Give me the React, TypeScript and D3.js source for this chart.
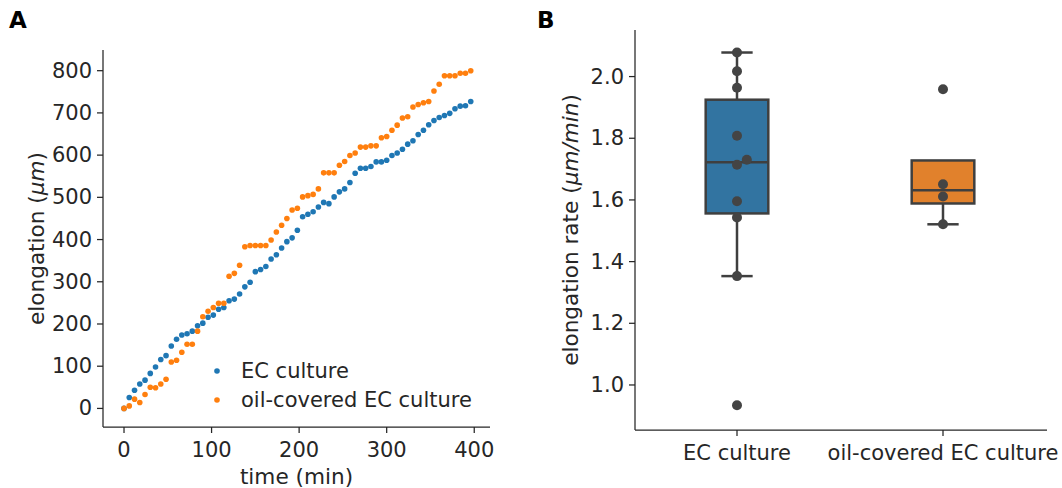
import React from "react";
import * as d3 from "d3";

// ---------- Panel A data ----------
const times = [0, 6, 12, 18, 24, 30, 36, 42, 48, 54, 60, 66, 72, 78, 84, 90, 96, 102, 108, 114, 120, 126, 132, 138, 144, 150, 156, 162, 168, 174, 180, 186, 192, 198, 204, 210, 216, 222, 228, 234, 240, 246, 252, 258, 264, 270, 276, 282, 288, 294, 300, 306, 312, 318, 324, 330, 336, 342, 348, 354, 360, 366, 372, 378, 384, 390, 396];
const ecElong = [0, 26, 43, 58, 67, 83, 98, 116, 125, 148, 164, 174, 177, 183, 196, 202, 216, 221, 235, 239, 255, 259, 271, 288, 299, 324, 329, 336, 354, 364, 380, 395, 404, 422, 454, 460, 466, 477, 488, 485, 501, 513, 520, 535, 557, 569, 569, 573, 584, 584, 588, 599, 605, 614, 626, 634, 649, 659, 672, 682, 689, 694, 699, 710, 716, 717, 727];
const oilElong = [0, 6, 22, 14, 33, 50, 49, 58, 69, 110, 114, 133, 152, 152, 183, 217, 230, 239, 249, 249, 313, 320, 339, 383, 386, 386, 386, 386, 399, 418, 434, 450, 470, 474, 501, 504, 507, 520, 558, 558, 558, 576, 585, 599, 605, 619, 619, 622, 622, 641, 644, 659, 671, 688, 691, 714, 720, 724, 727, 752, 768, 788, 788, 788, 794, 794, 800];
const xTicksA = [0, 100, 200, 300, 400];
const yTicksA = [0, 100, 200, 300, 400, 500, 600, 700, 800];
const seriesNames = ["EC culture", "oil-covered EC culture"];

// ---------- Panel B data ----------
const categories = ["EC culture", "oil-covered EC culture"];
const ecRates = [2.078, 2.017, 1.964, 1.808, 1.730, 1.714, 1.596, 1.543, 1.353, 0.934];
const oilRates = [1.959, 1.651, 1.611, 1.521];
const yTicksB = [1.0, 1.2, 1.4, 1.6, 1.8, 2.0];

const FONT = "DejaVu Sans, Liberation Sans, sans-serif";
const TXT = "#262626";
const C_BLUE = "#1f77b4";
const C_ORANGE = "#ff7f0e";
const BOX_COLORS = ["#3274a1", "#e1812c"];
const LINE = "#3f3f3f";
const TICK_FS = 21;
const LABEL_FS = 21.6;

function boxStats(vals: number[]) {
  const s = [...vals].sort((a, b) => a - b);
  const q1 = d3.quantile(s, 0.25)!;
  const med = d3.quantile(s, 0.5)!;
  const q3 = d3.quantile(s, 0.75)!;
  const iqr = q3 - q1;
  const lo = q1 - 1.5 * iqr;
  const hi = q3 + 1.5 * iqr;
  const inside = s.filter((v) => v >= lo && v <= hi);
  return { q1, med, q3, wLo: d3.min(inside)!, wHi: d3.max(inside)! };
}

function swarm(vals: number[], y: (v: number) => number, d: number) {
  const sorted = [...vals].sort((a, b) => a - b);
  const placed: { x: number; y: number; v: number }[] = [];
  for (const v of sorted) {
    const py = y(v);
    const cands = [0];
    for (const p of placed) {
      const dy = Math.abs(p.y - py);
      if (dy < d) {
        const dx = Math.sqrt(d * d - dy * dy);
        cands.push(p.x + dx, p.x - dx);
      }
    }
    cands.sort((a, b) => Math.abs(a) - Math.abs(b));
    let chosen = 0;
    for (const c of cands) {
      const ok = placed.every((p) => Math.hypot(p.x - c, p.y - py) >= d - 1e-6);
      if (ok) { chosen = c; break; }
    }
    placed.push({ x: chosen, y: py, v });
  }
  return placed;
}

export default function App() {
  // Panel A scales
  const axL = 103, axR = 490, axT = 50, axB = 427;
  const xA = d3.scaleLinear().domain([-24, 418]).range([axL, axR]);
  const yA = d3.scaleLinear().domain([-44, 849]).range([axB, axT]);

  // Panel B scales
  const bL = 635, bR = 1047, bT = 30, bB = 430;
  const xB = d3.scaleLinear().domain([-0.5, 1.5]).range([bL - 1, bR - 1]);
  const yB = d3.scaleLinear().domain([0.854, 2.151]).range([bB, bT]);
  const boxHalf = 0.152 * (xB(1) - xB(0));

  const groups = [ecRates, oilRates];

  return (
    <svg width={1062} height={488} style={{ position: "absolute", left: 0, top: 0, background: "#fff" }} fontFamily={FONT}>
      <rect x={0} y={0} width={1062} height={488} fill="#fff" />
      {/* Panel letters */}
      <text x={9} y={28} fontSize={23} fontWeight="bold" fill="#000">A</text>
      <text x={537} y={28} fontSize={23} fontWeight="bold" fill="#000">B</text>

      {/* ---------- Panel A ---------- */}
      <g>
        {times.map((t, i) => (
          <circle key={"b" + i} cx={xA(t)} cy={yA(ecElong[i])} r={2.8} fill={C_BLUE} />
        ))}
        {times.map((t, i) => (
          <circle key={"o" + i} cx={xA(t)} cy={yA(oilElong[i])} r={2.8} fill={C_ORANGE} />
        ))}
        <line x1={axL} x2={axL} y1={axT} y2={axB} stroke={TXT} strokeWidth={1.25} />
        <line x1={axL} x2={axR} y1={axB} y2={axB} stroke={TXT} strokeWidth={1.25} />
        {xTicksA.map((t) => (
          <g key={"xt" + t}>
            <line x1={xA(t)} x2={xA(t)} y1={axB} y2={axB + 6} stroke={TXT} strokeWidth={1.25} />
            <text x={xA(t)} y={axB + 23} textAnchor="middle" dominantBaseline="central" fontSize={TICK_FS} fill={TXT}>{t}</text>
          </g>
        ))}
        {yTicksA.map((t) => (
          <g key={"yt" + t}>
            <line x1={axL - 6} x2={axL} y1={yA(t)} y2={yA(t)} stroke={TXT} strokeWidth={1.25} />
            <text x={axL - 11} y={yA(t)} textAnchor="end" dominantBaseline="central" fontSize={TICK_FS} fill={TXT}>{t}</text>
          </g>
        ))}
        <text x={(axL + axR) / 2} y={476} textAnchor="middle" dominantBaseline="central" fontSize={LABEL_FS} fill={TXT}>time (min)</text>
        <text transform={`translate(36,${(axT + axB) / 2}) rotate(-90)`} textAnchor="middle" dominantBaseline="central" fontSize={LABEL_FS} fill={TXT}>
          elongation (<tspan fontStyle="italic">μm</tspan>)
        </text>
        {/* legend */}
        {seriesNames.map((n, i) => (
          <g key={"lg" + i}>
            <circle cx={217} cy={371 + i * 29} r={2.8} fill={i === 0 ? C_BLUE : C_ORANGE} />
            <text x={241} y={371 + i * 29} dominantBaseline="central" fontSize={TICK_FS} fill={TXT}>{n}</text>
          </g>
        ))}
      </g>

      {/* ---------- Panel B ---------- */}
      <g>
        {groups.map((vals, gi) => {
          const s = boxStats(vals);
          const cx = xB(gi);
          return (
            <g key={"box" + gi}>
              <line x1={cx} x2={cx} y1={yB(s.q3)} y2={yB(s.wHi)} stroke={LINE} strokeWidth={2.5} />
              <line x1={cx} x2={cx} y1={yB(s.q1)} y2={yB(s.wLo)} stroke={LINE} strokeWidth={2.5} />
              <line x1={cx - boxHalf / 2} x2={cx + boxHalf / 2} y1={yB(s.wHi)} y2={yB(s.wHi)} stroke={LINE} strokeWidth={2.5} />
              <line x1={cx - boxHalf / 2} x2={cx + boxHalf / 2} y1={yB(s.wLo)} y2={yB(s.wLo)} stroke={LINE} strokeWidth={2.5} />
              <rect x={cx - boxHalf} y={yB(s.q3)} width={boxHalf * 2} height={yB(s.q1) - yB(s.q3)} fill={BOX_COLORS[gi]} stroke={LINE} strokeWidth={2.5} />
              <line x1={cx - boxHalf} x2={cx + boxHalf} y1={yB(s.med)} y2={yB(s.med)} stroke={LINE} strokeWidth={2.5} />
            </g>
          );
        })}
        {groups.map((vals, gi) =>
          swarm(vals, (v) => yB(v), 11).map((p, i) => (
            <circle key={"sw" + gi + "-" + i} cx={xB(gi) + p.x} cy={p.y} r={5} fill="#444444" />
          ))
        )}
        <line x1={bL} x2={bL} y1={bT} y2={bB} stroke={TXT} strokeWidth={1.25} />
        <line x1={bL} x2={bR} y1={bB} y2={bB} stroke={TXT} strokeWidth={1.25} />
        {categories.map((c, i) => (
          <g key={"bx" + i}>
            <line x1={xB(i)} x2={xB(i)} y1={bB} y2={bB + 6} stroke={TXT} strokeWidth={1.25} />
            <text x={xB(i)} y={bB + 23} textAnchor="middle" dominantBaseline="central" fontSize={TICK_FS} fill={TXT}>{c}</text>
          </g>
        ))}
        {yTicksB.map((t) => (
          <g key={"by" + t}>
            <line x1={bL - 6} x2={bL} y1={yB(t)} y2={yB(t)} stroke={TXT} strokeWidth={1.25} />
            <text x={bL - 11} y={yB(t)} textAnchor="end" dominantBaseline="central" fontSize={TICK_FS} fill={TXT}>{t.toFixed(1)}</text>
          </g>
        ))}
        <text transform={`translate(570,${(bT + bB) / 2}) rotate(-90)`} textAnchor="middle" dominantBaseline="central" fontSize={LABEL_FS} fill={TXT}>
          elongation rate (<tspan fontStyle="italic">μm/min</tspan>)
        </text>
      </g>
    </svg>
  );
}
